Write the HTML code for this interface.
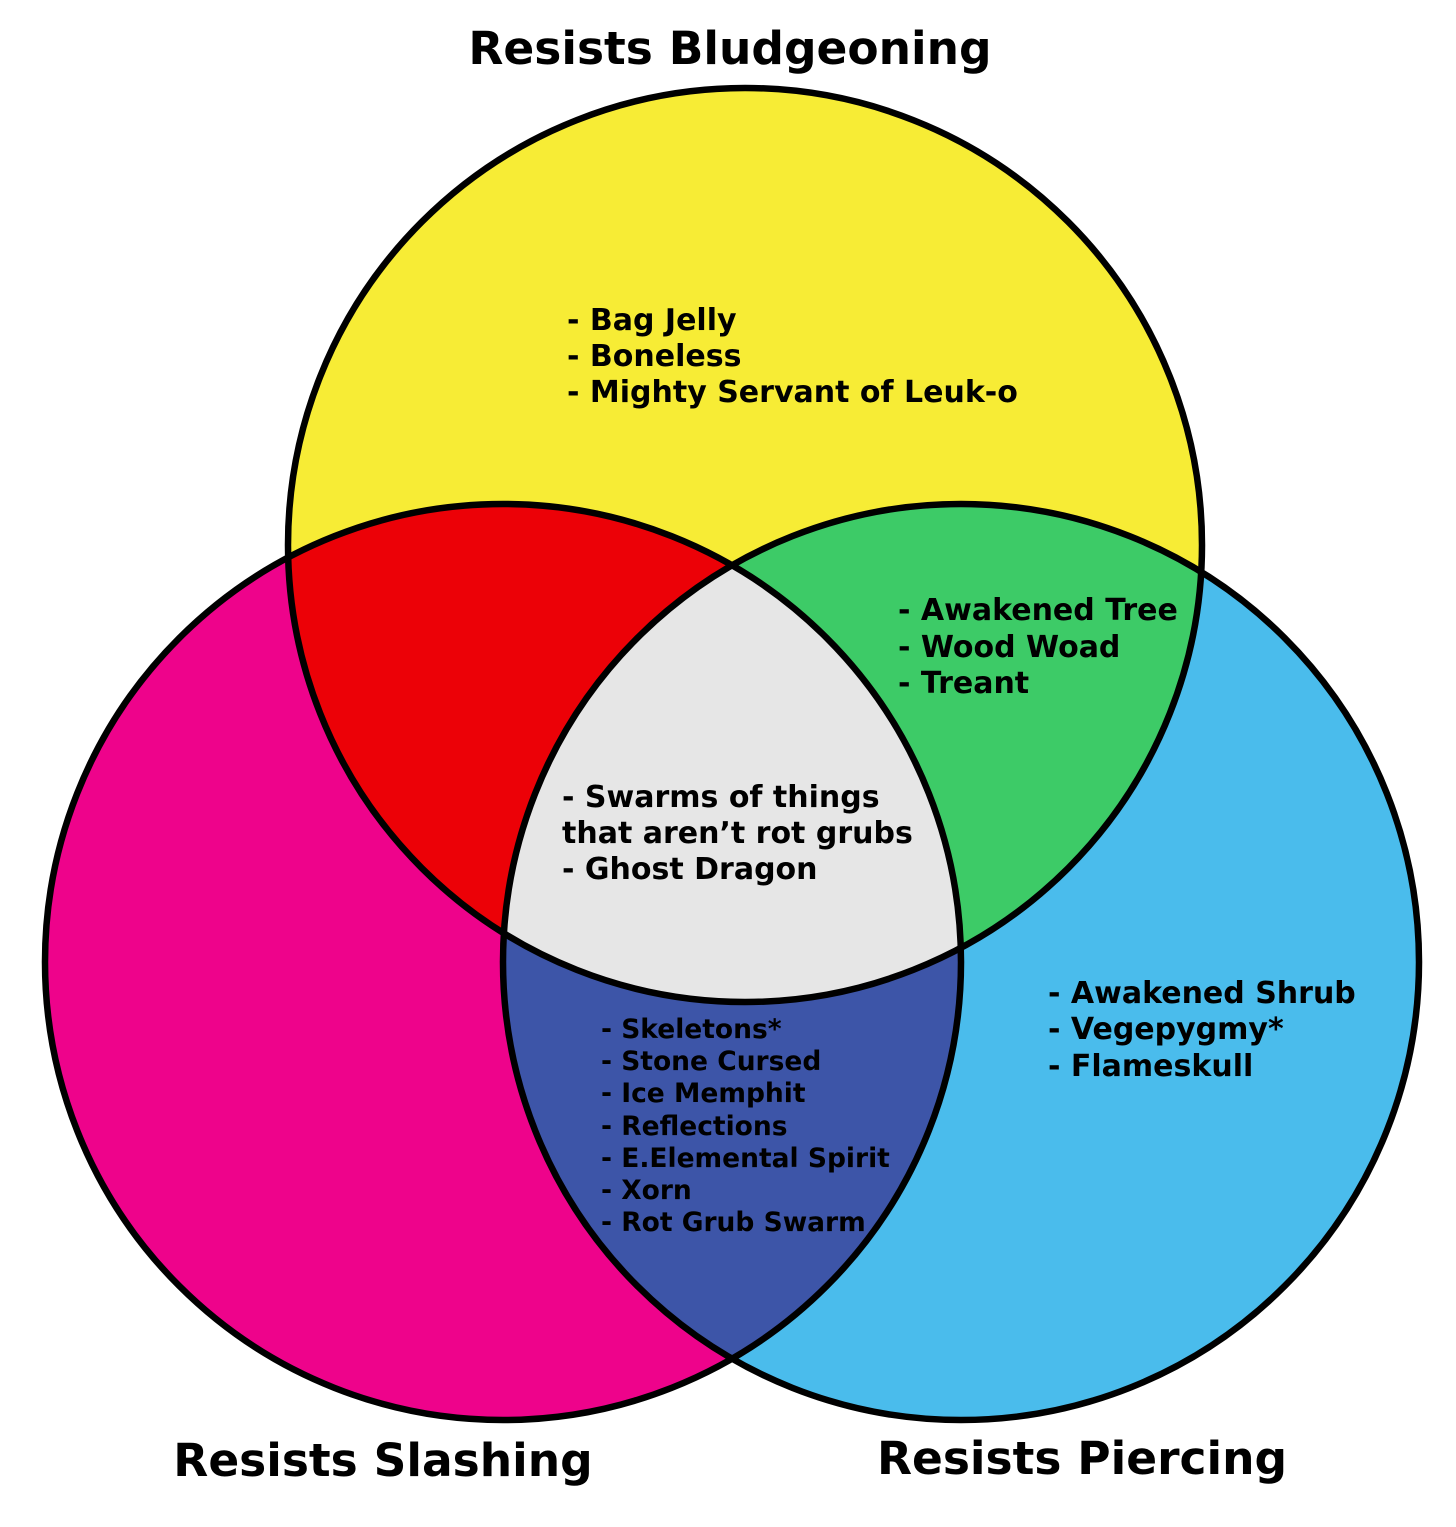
<!DOCTYPE html>
<html><head><meta charset="utf-8"><style>body{margin:0;background:#fff}svg{display:block}</style></head>
<body>
<svg width="1456" height="1527" viewBox="0 0 1456 1527" xmlns="http://www.w3.org/2000/svg" font-family="'DejaVu Sans','Liberation Sans',sans-serif" font-weight="bold">
<defs>
<clipPath id="cT"><circle cx="745" cy="545" r="457"/></clipPath>
<clipPath id="cL"><circle cx="503" cy="962" r="458"/></clipPath>
<clipPath id="cR"><circle cx="961" cy="962" r="458"/></clipPath>
</defs>
<circle cx="745" cy="545" r="457" fill="#F7EC35"/>
<circle cx="503" cy="962" r="458" fill="#EE038B"/>
<circle cx="961" cy="962" r="458" fill="#4ABCEC"/>
<circle cx="503" cy="962" r="458" fill="#EC0107" clip-path="url(#cT)"/>
<circle cx="961" cy="962" r="458" fill="#3DCB67" clip-path="url(#cT)"/>
<circle cx="961" cy="962" r="458" fill="#3D55A8" clip-path="url(#cL)"/>
<g clip-path="url(#cT)"><circle cx="961" cy="962" r="458" fill="#E6E6E6" clip-path="url(#cL)"/></g>
<g fill="none" stroke="#000" stroke-width="6.5">
<circle cx="745" cy="545" r="457"/>
<circle cx="503" cy="962" r="458"/>
<circle cx="961" cy="962" r="458"/>
</g>
<g font-size="45.5" text-anchor="middle">
<text x="730" y="64">Resists Bludgeoning</text>
<text x="383" y="1476">Resists Slashing</text>
<text x="1082" y="1474">Resists Piercing</text>
</g>
<g font-size="30">
<text x="567" y="330">- Bag Jelly</text>
<text x="567" y="366">- Boneless</text>
<text x="567" y="402">- Mighty Servant of Leuk-o</text>
<text x="898" y="620">- Awakened Tree</text>
<text x="898" y="657">- Wood Woad</text>
<text x="898" y="693">- Treant</text>
<text x="562" y="807">- Swarms of things</text>
<text x="562" y="843">that aren’t rot grubs</text>
<text x="562" y="879">- Ghost Dragon</text>
<text x="1048" y="1003">- Awakened Shrub</text>
<text x="1048" y="1039">- Vegepygmy*</text>
<text x="1048" y="1076">- Flameskull</text>
</g>
<g font-size="26.5">
<text x="601" y="1038">- Skeletons*</text>
<text x="601" y="1070">- Stone Cursed</text>
<text x="601" y="1102">- Ice Memphit</text>
<text x="601" y="1135">- Reflections</text>
<text x="601" y="1167">- E.Elemental Spirit</text>
<text x="601" y="1199">- Xorn</text>
<text x="601" y="1231">- Rot Grub Swarm</text>
</g>
</svg>
</body></html>
